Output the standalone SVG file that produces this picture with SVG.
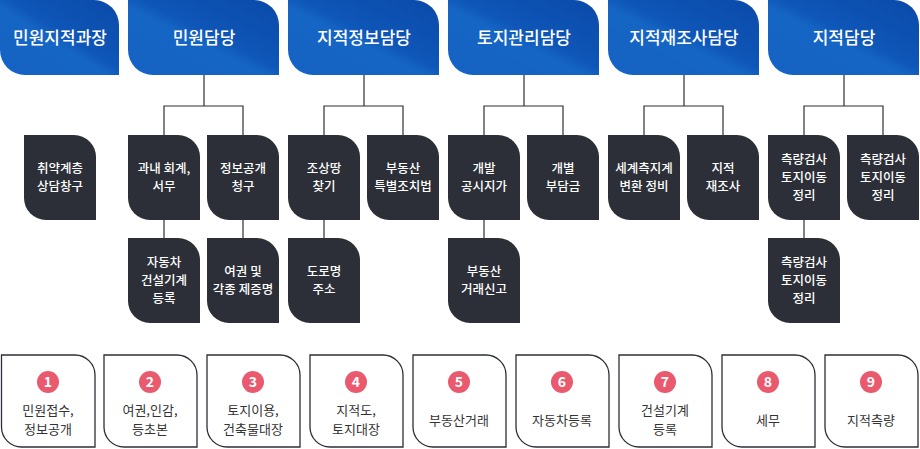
<svg xmlns="http://www.w3.org/2000/svg" width="920" height="449" viewBox="0 0 920 449">
<defs>
<linearGradient id="bg" x1="0" y1="1" x2="1" y2="0">
<stop offset="0" stop-color="#1563c4"/><stop offset="0.45" stop-color="#1565c4"/><stop offset="0.55" stop-color="#0e56b8"/><stop offset="1" stop-color="#0a4aa8"/>
</linearGradient>
<style>
text{font-family:"Noto Sans CJK KR","Noto Sans",sans-serif;text-anchor:middle}
.h{fill:url(#bg)}
.ht{fill:#fff;font-size:17px;font-weight:500}
.d{fill:#2c2f37}
.dt{fill:#fff;font-size:12.5px;font-weight:500}
.b{fill:#fff;stroke:#2c2f37;stroke-width:1.3}
.bt{fill:#333;font-size:13px}
.c{fill:#ea5a6e}
.ct{fill:#fff;font-size:14px;font-weight:700}
.ln{stroke:#2c2f37;stroke-width:1.2;fill:none}
</style>
</defs>
<g id="connectors" class="ln">
<path d="M204 75V106M164 135V106H243V135M164 220V238M243 220V238"/>
<path d="M364 75V106M324 135V106H403V135M324 220V238"/>
<path d="M524 75V106M484 135V106H563V135M484 220V238"/>
<path d="M684 75V106M644 135V106H723V135"/>
<path d="M844 75V106M804 135V106H883V135M804 220V238"/>
</g>
<g id="h1"><path class="h" d="M0 0H94A25 25 0 0 1 119 25V75H25A25 25 0 0 1 0 50Z"/><text class="ht" x="60" y="44">민원지적과장</text></g>
<g id="h2"><path class="h" d="M128 0H254A25 25 0 0 1 279 25V75H153A25 25 0 0 1 128 50Z"/><text class="ht" x="204" y="44">민원담당</text></g>
<g id="h3"><path class="h" d="M288 0H414A25 25 0 0 1 439 25V75H313A25 25 0 0 1 288 50Z"/><text class="ht" x="364" y="44">지적정보담당</text></g>
<g id="h4"><path class="h" d="M448 0H574A25 25 0 0 1 599 25V75H473A25 25 0 0 1 448 50Z"/><text class="ht" x="524" y="44">토지관리담당</text></g>
<g id="h5"><path class="h" d="M608 0H734A25 25 0 0 1 759 25V75H633A25 25 0 0 1 608 50Z"/><text class="ht" x="684" y="44">지적재조사담당</text></g>
<g id="h6"><path class="h" d="M768 0H894A25 25 0 0 1 919 25V75H793A25 25 0 0 1 768 50Z"/><text class="ht" x="844" y="44">지적담당</text></g>

<g id="d1"><path class="d" d="M24 135H74A22 22 0 0 1 96 157V220H46A22 22 0 0 1 24 198Z"/><text class="dt" x="60" y="173">취약계층</text><text class="dt" x="60" y="191">상담창구</text></g>
<g id="d2"><path class="d" d="M128 135H178A22 22 0 0 1 200 157V220H150A22 22 0 0 1 128 198Z"/><text class="dt" x="164" y="173">과내 회계,</text><text class="dt" x="164" y="191">서무</text></g>
<g id="d3"><path class="d" d="M207 135H257A22 22 0 0 1 279 157V220H229A22 22 0 0 1 207 198Z"/><text class="dt" x="243" y="173">정보공개</text><text class="dt" x="243" y="191">청구</text></g>
<g id="d4"><path class="d" d="M128 238H178A22 22 0 0 1 200 260V323H150A22 22 0 0 1 128 301Z"/><text class="dt" x="164" y="267">자동차</text><text class="dt" x="164" y="285">건설기계</text><text class="dt" x="164" y="303">등록</text></g>
<g id="d5"><path class="d" d="M207 238H257A22 22 0 0 1 279 260V323H229A22 22 0 0 1 207 301Z"/><text class="dt" x="243" y="276">여권 및</text><text class="dt" x="243" y="294">각종 제증명</text></g>
<g id="d6"><path class="d" d="M288 135H338A22 22 0 0 1 360 157V220H310A22 22 0 0 1 288 198Z"/><text class="dt" x="324" y="173">조상땅</text><text class="dt" x="324" y="191">찾기</text></g>
<g id="d7"><path class="d" d="M367 135H417A22 22 0 0 1 439 157V220H389A22 22 0 0 1 367 198Z"/><text class="dt" x="403" y="173">부동산</text><text class="dt" x="403" y="191">특별조치법</text></g>
<g id="d8"><path class="d" d="M288 238H338A22 22 0 0 1 360 260V323H310A22 22 0 0 1 288 301Z"/><text class="dt" x="324" y="276">도로명</text><text class="dt" x="324" y="294">주소</text></g>
<g id="d9"><path class="d" d="M448 135H498A22 22 0 0 1 520 157V220H470A22 22 0 0 1 448 198Z"/><text class="dt" x="484" y="173">개발</text><text class="dt" x="484" y="191">공시지가</text></g>
<g id="d10"><path class="d" d="M527 135H577A22 22 0 0 1 599 157V220H549A22 22 0 0 1 527 198Z"/><text class="dt" x="563" y="173">개별</text><text class="dt" x="563" y="191">부담금</text></g>
<g id="d11"><path class="d" d="M448 238H498A22 22 0 0 1 520 260V323H470A22 22 0 0 1 448 301Z"/><text class="dt" x="484" y="276">부동산</text><text class="dt" x="484" y="294">거래신고</text></g>
<g id="d12"><path class="d" d="M608 135H658A22 22 0 0 1 680 157V220H630A22 22 0 0 1 608 198Z"/><text class="dt" x="644" y="173">세계측지계</text><text class="dt" x="644" y="191">변환 정비</text></g>
<g id="d13"><path class="d" d="M687 135H737A22 22 0 0 1 759 157V220H709A22 22 0 0 1 687 198Z"/><text class="dt" x="723" y="173">지적</text><text class="dt" x="723" y="191">재조사</text></g>
<g id="d14"><path class="d" d="M768 135H818A22 22 0 0 1 840 157V220H790A22 22 0 0 1 768 198Z"/><text class="dt" x="804" y="164">측량검사</text><text class="dt" x="804" y="182">토지이동</text><text class="dt" x="804" y="200">정리</text></g>
<g id="d15"><path class="d" d="M847 135H897A22 22 0 0 1 919 157V220H869A22 22 0 0 1 847 198Z"/><text class="dt" x="883" y="164">측량검사</text><text class="dt" x="883" y="182">토지이동</text><text class="dt" x="883" y="200">정리</text></g>
<g id="d16"><path class="d" d="M768 238H818A22 22 0 0 1 840 260V323H790A22 22 0 0 1 768 301Z"/><text class="dt" x="804" y="267">측량검사</text><text class="dt" x="804" y="285">토지이동</text><text class="dt" x="804" y="303">정리</text></g>

<g id="b1"><path class="b" d="M1.5 355H75A20 20 0 0 1 95 375V447H21.5A20 20 0 0 1 1.5 427Z"/><circle class="c" cx="48" cy="382" r="11"/><text class="ct" x="48" y="387">1</text><text class="bt" x="48" y="415">민원접수,</text><text class="bt" x="48" y="434">정보공개</text></g>
<g id="b2"><path class="b" d="M104 355H177A20 20 0 0 1 197 375V447H124A20 20 0 0 1 104 427Z"/><circle class="c" cx="150" cy="382" r="11"/><text class="ct" x="150" y="387">2</text><text class="bt" x="150" y="415">여권,인감,</text><text class="bt" x="150" y="434">등초본</text></g>
<g id="b3"><path class="b" d="M207 355H280A20 20 0 0 1 300 375V447H227A20 20 0 0 1 207 427Z"/><circle class="c" cx="253" cy="382" r="11"/><text class="ct" x="253" y="387">3</text><text class="bt" x="253" y="415">토지이용,</text><text class="bt" x="253" y="434">건축물대장</text></g>
<g id="b4"><path class="b" d="M310 355H383A20 20 0 0 1 403 375V447H330A20 20 0 0 1 310 427Z"/><circle class="c" cx="356" cy="382" r="11"/><text class="ct" x="356" y="387">4</text><text class="bt" x="356" y="415">지적도,</text><text class="bt" x="356" y="434">토지대장</text></g>
<g id="b5"><path class="b" d="M413 355H486A20 20 0 0 1 506 375V447H433A20 20 0 0 1 413 427Z"/><circle class="c" cx="459" cy="382" r="11"/><text class="ct" x="459" y="387">5</text><text class="bt" x="459" y="425">부동산거래</text></g>
<g id="b6"><path class="b" d="M516 355H589A20 20 0 0 1 609 375V447H536A20 20 0 0 1 516 427Z"/><circle class="c" cx="562" cy="382" r="11"/><text class="ct" x="562" y="387">6</text><text class="bt" x="562" y="425">자동차등록</text></g>
<g id="b7"><path class="b" d="M619 355H692A20 20 0 0 1 712 375V447H639A20 20 0 0 1 619 427Z"/><circle class="c" cx="665" cy="382" r="11"/><text class="ct" x="665" y="387">7</text><text class="bt" x="665" y="415">건설기계</text><text class="bt" x="665" y="434">등록</text></g>
<g id="b8"><path class="b" d="M722 355H795A20 20 0 0 1 815 375V447H742A20 20 0 0 1 722 427Z"/><circle class="c" cx="768" cy="382" r="11"/><text class="ct" x="768" y="387">8</text><text class="bt" x="768" y="425">세무</text></g>
<g id="b9"><path class="b" d="M825 355H898A20 20 0 0 1 918 375V447H845A20 20 0 0 1 825 427Z"/><circle class="c" cx="871" cy="382" r="11"/><text class="ct" x="871" y="387">9</text><text class="bt" x="871" y="425">지적측량</text></g>
</svg>
